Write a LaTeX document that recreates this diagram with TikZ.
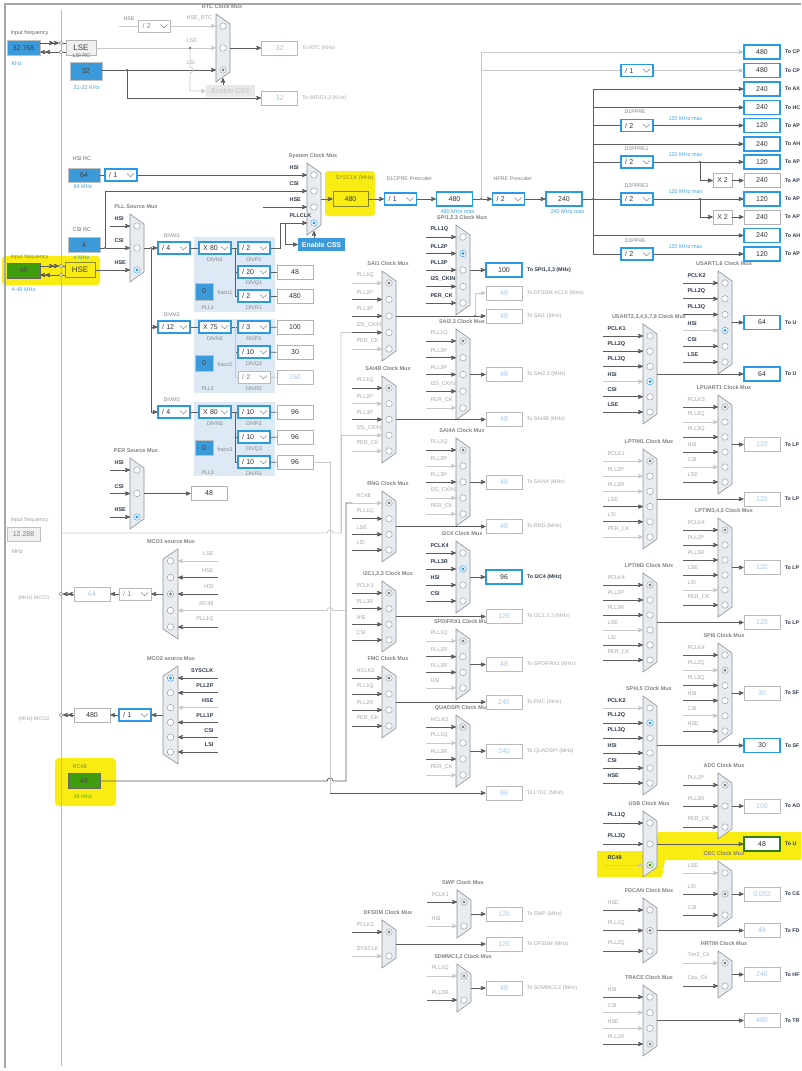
\documentclass[tikz,border=0pt]{standalone}
\usepackage{fontspec}
\setmainfont{Liberation Sans}
\usetikzlibrary{arrows,positioning}

\definecolor{srcblue}{HTML}{3B9BDA}
\definecolor{boxblue}{HTML}{2A9AE4}
\definecolor{srcgreen}{HTML}{3F9C0C}
\definecolor{hilite}{HTML}{F8EC12}
\definecolor{pllpanel}{HTML}{DDE9F5}
\definecolor{muxfill}{HTML}{E8ECF0}
\definecolor{muxline}{HTML}{8C9198}
\definecolor{txtdark}{HTML}{2E3A4C}
\definecolor{txtgray}{HTML}{A3A3A3}
\definecolor{txtblue}{HTML}{3FA2E2}
\definecolor{dimval}{HTML}{A9C7E6}
\definecolor{wiredark}{HTML}{5C5C5C}
\definecolor{wirelight}{HTML}{C9C9C9}
\definecolor{titlegray}{HTML}{808080}
\definecolor{hseolive}{HTML}{8A8A20}

\newcommand{\fs}[1]{\fontsize{#1}{#1}\selectfont}
\newcommand{\inlen}{30}

% clock mux, output on the right
\newcommand{\clkmux}[8]{%
  \draw[muxbody] (#2,#3) -- (#2+14,#3+10) -- (#2+14,#4-10) -- (#2,#4) -- cycle;
  \node[muxtitle] (#1-t) at (#2+6,#3-7) {#6};
  \coordinate (#1-out) at (#2+14,{(#3+#4)/2});
  \foreach \lab/\lw/\rd [count=\i] in {#8} {
    \pgfmathsetmacro{\yy}{#3+12+(\i-1)*(#4-#3-24)/(#5-1)}
    \coordinate (#1-in\i) at (#2-\inlen,\yy);
    \coordinate (#1-e\i) at (#2,\yy);
    \draw[in\lw] (#1-in\i) -- (#1-e\i);
    \node[radio\rd] (#1-r\i) at (#2+7,\yy) {};
    \node[#7, anchor=south west] (#1-l\i) at (#2-\inlen+1,\yy-1.5) {\lab};
  }
}
% clock mux, output on the left (MCO)
\newcommand{\clkmuxl}[8]{%
  \draw[muxbody] (#2,#3+10) -- (#2+15,#3) -- (#2+15,#4) -- (#2,#4-10) -- cycle;
  \node[muxtitle] (#1-t) at (#2+8,#3-7) {#6};
  \coordinate (#1-out) at (#2,{(#3+#4)/2});
  \foreach \lab/\lw/\rd [count=\i] in {#8} {
    \pgfmathsetmacro{\yy}{#3+12+(\i-1)*(#4-#3-24)/(#5-1)}
    \coordinate (#1-in\i) at (#2+15+\inlen,\yy);
    \coordinate (#1-e\i) at (#2+15,\yy);
    \draw[in\lw] (#1-in\i) -- (#1-e\i);
    \node[radio\rd] (#1-r\i) at (#2+7.5,\yy) {};
    \node[#7, anchor=south east] (#1-l\i) at (#2+15+\inlen-1,\yy-1.5) {\lab};
  }
}

\begin{document}
\begin{tikzpicture}[x=1pt,y=-1pt,>=stealth',font=\fs{5.5},
    muxbody/.style={fill=muxfill,draw=muxline,line width=0.6},
    muxtitle/.style={font=\fs{5.5}\bfseries,text=titlegray},
    wire/.style={draw=wiredark,line width=0.8},
    wirel/.style={draw=wirelight,line width=0.8},
    ind/.style={->,wire},
    inl/.style={->,wirel},
    radioo/.style={circle,draw=muxline,fill=white,minimum size=6.5pt,inner sep=0pt},
    radios/.style={radioo,draw=boxblue,path picture={\fill[boxblue] (path picture bounding box.center) circle (1.6pt);}},
    radiog/.style={radioo,path picture={\fill[gray] (path picture bounding box.center) circle (1.6pt);}},
    radion/.style={radioo,draw=srcgreen,path picture={\fill[srcgreen] (path picture bounding box.center) circle (1.6pt);}},
    act/.style={text=txtdark,font=\fs{5.5}\bfseries},
    dis/.style={text=txtgray,font=\fs{5.5}},
    obox/.style={draw=boxblue,line width=1.1,fill=white,minimum width=36pt,minimum height=14pt,inner sep=0pt,font=\fs{7},text=black!80},
    oboxd/.style={obox,draw=gray!55,line width=0.7,text=dimval},
    oboxk/.style={obox,draw=gray!60,line width=0.7},
    oboxg/.style={obox,draw=srcgreen!80!black},
    tolbl/.style={font=\fs{5.3}\bfseries,text=txtdark},
    tolbld/.style={font=\fs{5.3},text=txtgray},
    ddbox/.style={draw=boxblue,line width=1.1,fill=white,minimum width=32pt,minimum height=12pt,inner sep=0pt,
      font=\fs{7},text=black!80,text width=24pt,align=left,
      path picture={\draw[gray,line width=0.5] ([xshift=-10pt,yshift=1.5pt]path picture bounding box.east)
        -- ([xshift=-6.5pt,yshift=-1.8pt]path picture bounding box.east) -- ([xshift=-3pt,yshift=1.5pt]path picture bounding box.east);}},
    dddis/.style={ddbox,draw=gray!55,line width=0.7,text=gray},
    ddlbl/.style={font=\fs{5.3},text=gray},
    maxlbl/.style={font=\fs{5.5},text=txtblue},
    srcbox/.style={fill=srcblue,draw=gray!50,line width=0.5,font=\fs{7},text=black!75,inner sep=0pt},
    greenbox/.style={fill=srcgreen,draw=black!60,line width=0.5,font=\fs{7},text=black!70,inner sep=0pt},
    srclbl/.style={font=\fs{5.5},text=gray!80!black},
    unitlbl/.style={font=\fs{5.5},text=txtblue},
    pinc/.style={circle,draw=gray,fill=white,minimum size=3.5pt,inner sep=0pt},
    jdot/.style={circle,fill=wiredark,minimum size=2.2pt,inner sep=0pt},
    xbox/.style={draw=gray!60,fill=white,minimum width=19pt,minimum height=14pt,inner sep=0pt,font=\fs{7},text=black!75},
    panel/.style={fill=pllpanel}]

\useasboundingbox (0,0) rectangle (801,1071);

% highlights
\fill[hilite,rounded corners=3pt] (2,256) rectangle (100,285);
\fill[hilite,rounded corners=3pt] (325,171) rectangle (375,216);
\fill[hilite,rounded corners=4pt] (55,758) rectangle (116,806);
\fill[hilite] (597,851) -- (655,851) -- (658,832) -- (801,832) -- (801,860) -- (665,860) -- (662,877) -- (597,877) -- cycle;

\draw[gray!70,line width=1.2] (5,1068) -- (5,4) -- (801,4);
\draw[gray!55,line width=0.8] (61,10) -- (61,1066);

\fill[panel] (194,237) rectangle (275,312);
\fill[panel] (194,319) rectangle (275,393);
\fill[panel] (194,402) rectangle (275,476);

% LSE / LSI
\node[srclbl,anchor=south west] (lse-f) at (7,39) {Input frequency};
\node[srcbox,minimum width=33pt,minimum height=15pt] (lse-x) at (23.5,48) {32.768};
\node[unitlbl,anchor=west] (lse-u) at (8,64) {KHz};
\node[pinc] (lse-p1) at (61,43) {};
\node[pinc] (lse-p2) at (61,52) {};
\node[draw=gray!60,fill=gray!12,minimum width=30pt,minimum height=15pt,font=\fs{8},text=black!75,inner sep=0pt] (lse) at (81,47.5) {LSE};
\draw[wire,->>] (lse-x.east |- lse-p1) -- (lse-p1);
\draw[wire,<<-] (lse-x.east |- lse-p2) -- (lse-p2);
\draw[wire] (lse-p1) -- (lse.west |- lse-p1);
\draw[wire] (lse-p2) -- (lse.west |- lse-p2);

\node[srclbl,anchor=south west] (lsi-t) at (69,61.5) {LSI RC};
\node[srcbox,minimum width=32pt,minimum height=18pt] (lsi) at (86,71.5) {32};
\node[unitlbl,anchor=west] (lsi-u) at (70,88) {31-32 KHz};

\renewcommand{\inlen}{34}
\clkmux{rtc}{216}{14}{82}{3}{RTC Clock Mux}{dis}{HSE\_RTC/l/o, LSE/l/o, LSI/d/g}
\node[ddlbl,anchor=south west] (hsertc-l) at (120,24) {HSE};
\coordinate (hsertc-s) at (119,26);
\node[dddis] (rtcdiv) at (154.5,26) {/ 2};
\draw[wirel] (hsertc-s) -- (rtcdiv);
\draw[wirel] (rtcdiv) -- (rtc-in1);
\draw[wirel] (lse.east |- rtc-in2) -- (rtc-in2);
\draw[wire] (lsi.east |- rtc-in3) -- (rtc-in3);
\node[jdot] (lsi-j) at (127,70) {};
\node[oboxd] (iwdg-o) at (279.5,98) {32};
\node[tolbld,right=1pt of iwdg-o] (iwdg-to) {To IWDG1,2 (KHz)};
\draw[wire,->] (lsi-j) |- (iwdg-o);
\node[jdot] (lse-j) at (190,48) {};
\node[fill=gray!18,text=white!55!gray,font=\fs{7},minimum width=49pt,minimum height=12pt,inner sep=0pt] (css1) at (230.5,91) {Enable CSS};
\draw[wirel,->] (lse-j) -- (190,67) arc[start angle=-90,end angle=90,radius=3] -- (190,91) -- (css1);
\coordinate (rtc-b) at (223,78);
\draw[wire,->] (css1.north -| rtc-b) -- (rtc-b);

% HSI / CSI / HSE
\node[srclbl,anchor=south west] (hsi-t) at (69,164) {HSI RC};
\node[srcbox,minimum width=32pt,minimum height=14pt] (hsi) at (84,175) {64};
\node[unitlbl,anchor=west] (hsi-u) at (70,187) {64 MHz};
\node[ddbox] (hsidiv) at (121,175) {/ 1};
\draw[wire] (hsi) -- (hsidiv);

\node[srclbl,anchor=south west] (csi-t) at (69,235) {CSI RC};
\node[srcbox,minimum width=32pt,minimum height=15pt] (csi) at (84,245) {4};
\node[unitlbl,anchor=west] (csi-u) at (70,257.5) {4 MHz};

\node[srclbl,text=hseolive,anchor=south west] (hse-f) at (7,263) {Input frequency};
\node[greenbox,minimum width=33pt,minimum height=15pt] (hse-x) at (23.5,270.5) {48};
\node[unitlbl,anchor=west] (hse-u) at (8,290) {4-48 MHz};
\node[pinc] (hse-p1) at (61,266) {};
\node[pinc] (hse-p2) at (61,275) {};
\node[draw=hseolive,fill=hilite,minimum width=30pt,minimum height=15pt,font=\fs{8},text=black!75,inner sep=0pt] (hse) at (80,270) {HSE};
\draw[wire,->>] (hse-x.east |- hse-p1) -- (hse-p1);
\draw[wire,<<-] (hse-x.east |- hse-p2) -- (hse-p2);
\draw[wire] (hse-p1) -- (hse.west |- hse-p1);
\draw[wire] (hse-p2) -- (hse.west |- hse-p2);

% system clock mux
\renewcommand{\inlen}{22}
\clkmux{sys}{307}{163}{235}{4}{System Clock Mux}{act}{HSI/d/o, CSI/d/o, HSE/d/o, PLLCLK/d/s}
\draw[wire] (hsidiv) -- (sys-in1);
\node[jdot] (csi-j) at (105,248) {};
\draw[wire] (csi.east |- csi-j) -- (csi-j);
\draw[wire] (csi-j) |- (sys-in2);
\coordinate (hse-sys) at (263,207);
\draw[wire] (hse-sys) -- (sys-in3);

\renewcommand{\inlen}{20}
\clkmux{pllsrc}{130}{214}{282}{3}{PLL Source Mux}{act}{HSI/d/o, CSI/d/o, HSE/d/s}
\draw[wire] (csi-j) -- (pllsrc-in2);
\draw[wire] (hse) -- (pllsrc-in3);

\node[srclbl,text=hseolive,anchor=south west] (sysclk-t) at (332,184) {SYSCLK (MHz)};
\node[draw=hseolive,fill=hilite,line width=0.8,minimum width=35pt,minimum height=15pt,font=\fs{7},text=black!80,inner sep=0pt] (sysclk) at (350.5,199) {480};
\draw[wire,->] (sys-out) -- (sysclk);
\node[ddlbl,anchor=south west] (d1cpre-t) at (383,184) {D1CPRE Prescaler};
\node[ddbox] (d1cpre) at (400.5,199) {/ 1};
\draw[wire,->] (sysclk) -- (d1cpre);
\node[obox] (cpuclk) at (454.5,199) {480};
\node[maxlbl,anchor=west] (cpuclk-m) at (437,212) {480 MHz max};
\draw[wire,->] (d1cpre) -- (cpuclk);
\node[jdot] (cpu-j) at (481,199) {};
\draw[wire] (cpuclk) -- (cpu-j);
\node[ddlbl,anchor=south west] (hpre-t) at (490,184) {HPRE Prescaler};
\node[ddbox] (hpre) at (508.5,199) {/ 2};
\draw[wire,->] (cpu-j) -- (hpre);
\node[obox] (hclk) at (564,199) {240};
\node[maxlbl,anchor=west] (hclk-m) at (547,212) {240 MHz max};
\draw[wire,->] (hpre) -- (hclk);
\node[jdot] (bus-j) at (593,199) {};
\draw[wire] (hclk) -- (bus-j);

% bus clocks
\foreach \val/\yy/\tolab/\sty [count=\i] in {480/52/To CP/obox, 480/70.5/To CP/obox, 240/89/To AX/obox, 240/107.5/To HC/obox,
    120/125.5/To AP/obox, 240/144/To AH/obox, 120/162/To AP/obox, 240/180.5/To AP/oboxk, 120/199/To AP/obox,
    240/217/To AP/oboxk, 240/235.5/To AH/obox, 120/254/To AP/obox} {
  \node[\sty] (rb\i) at (762,\yy) {\val};
  \node[tolbl,right=1pt of rb\i] (rb\i-to) {\tolab};
}
\coordinate (cpu-c1) at (481,52);
\coordinate (cpu-c2) at (481,70.5);
\draw[wirel] (cpu-j) -- (cpu-c1);
\draw[wirel,->] (cpu-c1) -- (rb1);
\node[ddbox] (cpudiv) at (637,70.5) {/ 1};
\draw[wirel] (cpu-c2) -- (cpudiv);
\draw[wirel,->] (cpudiv) -- (rb2);
\coordinate (bus-t) at (593,89);
\coordinate (bus-b) at (593,254);
\draw[wire] (bus-t) -- (bus-b);
\foreach \i in {3,4,6,11} \draw[wire,->] (rb\i -| bus-t) -- (rb\i);
\foreach \nm/\yy/\lbtxt in {d1ppre/125.5/D1PPRE, d2ppre1/162/D2PPRE1, d2ppre2/199/D2PPRE2, d3ppre/254/D3PPRE} {
  \node[ddbox] (\nm) at (637,\yy) {/ 2};
  \node[ddlbl,anchor=south west] (\nm-t) at (621,\yy-8) {\lbtxt};
  \node[maxlbl,anchor=west] (\nm-m) at (665,\yy-7) {120 MHz max};
  \draw[wire] (\nm -| bus-t) -- (\nm);
}
\draw[wire,->] (d1ppre) -- (rb5);
\draw[wire,->] (d2ppre1) -- (rb7);
\draw[wire,->] (d2ppre2) -- (rb9);
\draw[wire,->] (d3ppre) -- (rb12);
\node[jdot] (x2a-j) at (700,162) {};
\node[xbox] (x2a) at (722.5,180.5) {X 2};
\draw[wire,->] (x2a-j) |- (x2a);
\draw[wire,->] (x2a) -- (rb8);
\node[jdot] (x2b-j) at (700,199) {};
\node[xbox] (x2b) at (722.5,217) {X 2};
\draw[wire,->] (x2b-j) |- (x2b);
\draw[wire,->] (x2b) -- (rb10);

% PLL1
\node[jdot] (pll-j) at (151,248) {};
\draw[wire] (pllsrc-out) -- (pll-j);
\node[ddbox] (divm1) at (174,248) {/ 4};
\node[ddlbl,anchor=south west] (divm1-t) at (160,241.5) {DIVM1};
\node[ddbox] (divn1) at (215,248) {X 80};
\node[ddlbl] (divn1-t) at (215,259.5) {DIVN1};
\node[ddbox] (divp1) at (254,248) {/ 2};
\node[ddlbl] (divp1-t) at (254,259.5) {DIVP1};
\node[ddbox] (divq1) at (254,272) {/ 20};
\node[ddlbl] (divq1-t) at (254,283.5) {DIVQ1};
\node[ddbox] (divr1) at (254,296) {/ 2};
\node[ddlbl] (divr1-t) at (254,307.5) {DIVR1};
\node[oboxk] (q1) at (295,272) {48};
\node[oboxk] (r1) at (295,296) {480};
\node[srcbox,minimum width=18pt,minimum height=17pt] (frac1) at (204,291.5) {0};
\node[ddlbl,anchor=west] (frac1-t) at (214,293) {fracn1};
\node[ddlbl,anchor=west] (pll1-t) at (198,307.5) {PLL1};
\coordinate (pll1-v) at (235,248);
\draw[wire,->] (pll-j) -- (divm1);
\draw[wire] (divm1) -- (divn1);
\draw[wire] (divn1) -- (divp1);
\draw[wire] (pll1-v) |- (divq1);
\draw[wire] (pll1-v) |- (divr1);
\draw[wire] (divq1) -- (q1);
\draw[wire] (divr1) -- (r1);
\coordinate (pllclk-b) at (280,223);
\draw[wire] (divp1) -| (pllclk-b) -- (sys-in4);
\node[fill=srcblue,text=white,font=\fs{7}\bfseries,minimum width=47pt,minimum height=13pt,inner sep=0pt] (css2) at (321.5,244.5) {Enable CSS};
\coordinate (css-t) at (285,223);
\draw[wire,->] (css-t) |- (css2);
\coordinate (sys-b) at (314,231);
\draw[wire,->] (css2.north -| sys-b) -- (sys-b);

% PLL2
\node[ddbox] (divm2) at (174,327) {/ 12};
\node[ddlbl,anchor=south west] (divm2-t) at (160,320.5) {DIVM2};
\node[ddbox] (divn2) at (215,327) {X 75};
\node[ddlbl] (divn2-t) at (215,339) {DIVN2};
\node[ddbox] (divp2) at (254,327) {/ 3};
\node[ddlbl] (divp2-t) at (254,339) {DIVP2};
\node[ddbox] (divq2) at (254,352) {/ 10};
\node[ddlbl] (divq2-t) at (254,364) {DIVQ2};
\node[dddis] (divr2) at (254,377) {/ 2};
\node[ddlbl] (divr2-t) at (254,389) {DIVR2};
\node[oboxk] (p2) at (295,327.5) {100};
\node[oboxk] (q2) at (295,352.5) {30};
\node[oboxd] (r2) at (295,377.5) {150};
\node[srcbox,minimum width=18pt,minimum height=16pt] (frac2) at (204,363) {0};
\node[ddlbl,anchor=west] (frac2-t) at (214,365) {fracn2};
\node[ddlbl,anchor=west] (pll2-t) at (198,389) {PLL2};
\coordinate (pll2-v) at (235,327);
\draw[wire,->] (pll-j) |- (divm2);
\draw[wire] (divm2) -- (divn2);
\draw[wire] (divn2) -- (divp2);
\draw[wire] (pll2-v) |- (divq2);
\draw[wirel] (pll2-v) |- (divr2);
\draw[wire] (divp2) -- (p2);
\draw[wire] (divq2) -- (q2);
\draw[wirel] (divr2) -- (r2);

% PLL3
\node[ddbox] (divm3) at (174,412) {/ 4};
\node[ddlbl,anchor=south west] (divm3-t) at (160,405.5) {DIVM3};
\node[ddbox] (divn3) at (215,412) {X 80};
\node[ddlbl] (divn3-t) at (215,424) {DIVN3};
\node[ddbox] (divp3) at (254,412) {/ 10};
\node[ddlbl] (divp3-t) at (254,424) {DIVP3};
\node[ddbox] (divq3) at (254,437) {/ 10};
\node[ddlbl] (divq3-t) at (254,449) {DIVQ3};
\node[ddbox] (divr3) at (254,462) {/ 10};
\node[ddlbl] (divr3-t) at (254,474) {DIVR3};
\node[oboxk] (p3) at (295,412.5) {96};
\node[oboxk] (q3) at (295,437.5) {96};
\node[oboxk] (r3) at (295,462.5) {96};
\node[srcbox,minimum width=18pt,minimum height=15pt] (frac3) at (204,448) {0};
\node[ddlbl,anchor=west] (frac3-t) at (214,450) {fracn3};
\node[ddlbl,anchor=west] (pll3-t) at (198,473) {PLL3};
\coordinate (pll3-v) at (235,412);
\draw[wire,->] (pll-j) |- (divm3);
\draw[wire] (divm3) -- (divn3);
\draw[wire] (divn3) -- (divp3);
\draw[wire] (pll3-v) |- (divq3);
\draw[wire] (pll3-v) |- (divr3);
\draw[wire] (divp3) -- (p3);
\draw[wire] (divq3) -- (q3);
\draw[wire] (divr3) -- (r3);

% PER source
\clkmux{per}{130}{458}{529}{3}{PER Source Mux}{act}{HSI/d/o, CSI/d/o, HSE/d/s}
\node[oboxk] (per-o) at (209,493.5) {48};
\draw[wire,->] (per-out) -- (per-o);

% I2S_CKIN input
\node[srclbl,text=txtgray,anchor=south west] (ckin-f) at (7,526) {Input frequency};
\node[fill=gray!12,draw=gray!50,minimum width=33pt,minimum height=14pt,font=\fs{7},text=gray,inner sep=0pt] (ckin-x) at (23.5,534) {12.288};
\node[srclbl,text=txtgray,anchor=west] (ckin-u) at (8,552) {MHz};

% middle muxes
\renewcommand{\inlen}{30}
\clkmux{spi1}{456}{225}{315}{5}{SPI1,2,3 Clock Mux}{act}{PLL1Q/d/o, PLL2P/d/s, PLL3P/d/o, I2S\_CKIN/d/o, PER\_CK/d/o}
\clkmux{sai1}{382}{271}{361}{5}{SAI1 Clock Mux}{dis}{PLL1Q/l/g, PLL2P/d/o, PLL3P/d/o, I2S\_CKIN/d/o, PER\_CK/l/o}
\clkmux{sai2}{456}{329}{420}{5}{SAI2,3 Clock Mux}{dis}{PLL1Q/d/g, PLL2P/d/o, PLL3P/d/o, I2S\_CKIN/d/o, PER\_CK/l/o}
\clkmux{sai4b}{382}{376}{463}{5}{SAI4B Clock Mux}{dis}{PLL1Q/d/g, PLL2P/l/o, PLL3P/d/o, I2S\_CKIN/l/o, PER\_CK/l/o}
\clkmux{sai4a}{456}{438}{526}{5}{SAI4A Clock Mux}{dis}{PLL1Q/d/g, PLL2P/l/o, PLL3P/d/o, I2S\_CKIN/l/o, PER\_CK/l/o}
\clkmux{rng}{382}{491}{562}{4}{RNG Clock Mux}{dis}{RC48/l/g, PLL1Q/d/o, LSE/d/o, LSI/d/o}
\clkmux{i2c4}{456}{541}{613}{4}{I2C4 Clock Mux}{act}{PCLK4/d/o, PLL3R/d/s, HSI/d/o, CSI/d/o}
\clkmux{i2c1}{382}{581}{652}{4}{I2C1,2,3 Clock Mux}{dis}{PCLK1/d/g, PLL3R/d/o, HSI/d/o, CSI/d/o}
\clkmux{spdif}{456}{629}{700}{4}{SPDIFRX1 Clock Mux}{dis}{PLL1Q/l/g, PLL2R/d/o, PLL3R/d/o, HSI/l/o}
\clkmux{fmc}{382}{666}{738}{4}{FMC Clock Mux}{dis}{HCLK3/d/g, PLL1Q/d/o, PLL2R/d/o, PER\_CK/d/o}
\clkmux{qspi}{456}{715}{787}{4}{QUADSPI Clock Mux}{dis}{HCLK3/d/g, PLL1Q/l/o, PLL2R/d/o, PER\_CK/l/o}
\clkmux{swp}{457}{890}{938}{2}{SWP Clock Mux}{dis}{PCLK1/d/g, HSI/l/o}
\clkmux{dfsdm}{382}{920}{968}{2}{DFSDM Clock Mux}{dis}{PCLK2/d/g, SYSCLK/l/o}
\clkmux{sdmmc}{457}{964}{1012}{2}{SDMMC1,2 Clock Mux}{dis}{PLL1Q/l/g, PLL2R/d/o}

% right muxes
\renewcommand{\inlen}{35}
\clkmux{usart1}{718}{271}{374}{6}{USART1,6 Clock Mux}{act}{PCLK2/d/o, PLL2Q/d/o, PLL3Q/d/o, HSI/l/s, CSI/d/o, LSE/d/o}
\clkmux{lpuart}{718}{395}{494}{6}{LPUART1 Clock Mux}{dis}{PCLK3/d/g, PLL2Q/l/o, PLL3Q/d/o, HSI/d/o, CSI/l/o, LSE/d/o}
\clkmux{lptim3}{718}{518}{617}{6}{LPTIM3,4,5 Clock Mux}{dis}{PCLK4/d/g, PLL2P/d/o, PLL3R/d/o, LSE/d/o, LSI/l/o, PER\_CK/d/o}
\clkmux{spi6}{718}{643}{743}{6}{SPI6 Clock Mux}{dis}{PCLK4/d/o, PLL2Q/l/g, PLL3Q/d/o, HSI/d/o, CSI/l/o, HSE/d/o}
\clkmux{adc}{718}{773}{839}{3}{ADC Clock Mux}{dis}{PLL2P/d/g, PLL3R/d/o, PER\_CK/d/o}
\clkmux{cec}{718}{861}{927}{3}{CEC Clock Mux}{dis}{LSE/l/o, LSI/d/g, CSI/d/o}
\clkmux{hrtim}{718}{951}{998}{2}{HRTIM Clock Mux}{dis}{Tim2\_Ck/l/g, Cpu\_Ck/d/o}
\renewcommand{\inlen}{40}
\clkmux{usart2}{643}{324}{424}{6}{USART2,3,4,5,7,8 Clock Mux}{act}{PCLK1/d/o, PLL2Q/d/o, PLL3Q/d/o, HSI/l/s, CSI/d/o, LSE/d/o}
\clkmux{lptim1}{643}{449}{549}{6}{LPTIM1 Clock Mux}{dis}{PCLK1/l/g, PLL2P/l/o, PLL3R/l/o, LSE/d/o, LSI/d/o, PER\_CK/l/o}
\clkmux{lptim2}{643}{573}{672}{6}{LPTIM2 Clock Mux}{dis}{PCLK4/d/g, PLL2P/d/o, PLL3R/d/o, LSE/l/o, LSI/d/o, PER\_CK/d/o}
\clkmux{spi45}{643}{696}{795}{6}{SPI4,5 Clock Mux}{act}{PCLK2/l/o, PLL2Q/d/s, PLL3Q/d/o, HSI/d/o, CSI/d/o, HSE/d/o}
\clkmux{usb}{643}{811}{877}{3}{USB Clock Mux}{act}{PLL1Q/d/o, PLL3Q/d/o, RC48/l/n}
\clkmux{fdcan}{643}{898}{963}{3}{FDCAN Clock Mux}{dis}{HSE/d/o, PLL1Q/d/g, PLL2Q/d/o}
\clkmux{trace}{643}{985}{1056}{4}{TRACE Clock Mux}{dis}{HSI/d/o, CSI/l/o, HSE/l/o, PLL1R/d/g}

% outputs of the muxes
\foreach \mx/\xx/\val/\sty/\lb/\tolab in {
    rtc/279.5/32/oboxd/tolbld/To RTC (KHz),
    spi1/504/100/obox/tolbl/{To SPI1,2,3 (MHz)},
    sai1/504/48/oboxd/tolbld/To SAI1 (MHz),
    sai2/504/48/oboxd/tolbld/{To SAI2,3 (MHz)},
    sai4b/504/48/oboxd/tolbld/To SAI4B (MHz),
    sai4a/504/48/oboxd/tolbld/To SAI4A (MHz),
    rng/504/48/oboxd/tolbld/To RNG (MHz),
    i2c4/504/96/obox/tolbl/To I2C4 (MHz),
    i2c1/504/120/oboxd/tolbld/{To I2C1,2,3 (MHz)},
    spdif/504/48/oboxd/tolbld/To SPDIFRX1 (MHz),
    fmc/504/240/oboxd/tolbld/To FMC (MHz),
    qspi/504/240/oboxd/tolbld/To QUADSPI (MHz),
    swp/504/120/oboxd/tolbld/To SWP (MHz),
    dfsdm/504/120/oboxd/tolbld/To DFSDM (MHz),
    sdmmc/504/48/oboxd/tolbld/{To SDMMC1,2 (MHz)},
    usart1/762/64/obox/tolbl/To U,
    usart2/762/64/obox/tolbl/To U,
    lpuart/762/120/oboxd/tolbl/To LP,
    lptim1/762/120/oboxd/tolbl/To LP,
    lptim3/762/120/oboxd/tolbl/To LP,
    lptim2/762/120/oboxd/tolbl/To LP,
    spi6/762/30/oboxd/tolbl/To SF,
    spi45/762/30/obox/tolbl/To SF,
    adc/762/100/oboxd/tolbl/To AD,
    usb/762/48/oboxg/tolbl/To U,
    cec/762/0.032/oboxd/tolbl/To CE,
    fdcan/762/48/oboxd/tolbl/To FD,
    hrtim/762/240/oboxd/tolbl/To HF,
    trace/762/480/oboxd/tolbl/To TR} {
  \node[\sty] (\mx-o) at (\xx,0 |- \mx-out) {\val};
  \node[\lb,right=1pt of \mx-o] (\mx-to) {\tolab};
  \draw[wire,->] (\mx-out) -- (\mx-o);
}
\node[jdot] (sai1-j) at (475,316) {};
\node[oboxd] (aclk-o) at (504,293) {48};
\node[tolbld,right=1pt of aclk-o] (aclk-to) {To DFSDM ACLK (MHz)};
\draw[wirel,->] (sai1-j) |- (aclk-o);

% MCO outputs
\renewcommand{\inlen}{40}
\clkmuxl{mco1}{163}{549}{639}{5}{MCO1 source Mux}{dis}{LSE/l/o, HSE/d/o, HSI/d/g, RC48/l/o, PLL1Q/d/o}
\node[dddis] (mco1div) at (135,594) {/ 1};
\node[oboxd] (mco1-o) at (92,594) {64};
\node[pinc] (mco1-p) at (61,594) {};
\node[tolbld,anchor=east] (mco1-t2) at (53,598) {(MHz) MCO1};
\draw[wire,->] (mco1-out) -- (mco1div);
\draw[wire,->] (mco1div) -- (mco1-o);
\draw[wire,->>] (mco1-o) -- (mco1-p);
\clkmuxl{mco2}{163}{666}{764}{6}{MCO2 source Mux}{act}{SYSCLK/d/s, PLL2P/d/o, HSE/l/o, PLL1P/d/o, CSI/d/o, LSI/d/o}
\node[ddbox] (mco2div) at (135,715) {/ 1};
\node[oboxk] (mco2-o) at (92,715) {480};
\node[pinc] (mco2-p) at (61,715) {};
\node[tolbld,anchor=east] (mco2-t2) at (53,719) {(MHz) MCO2};
\draw[wire,->] (mco2-out) -- (mco2div);
\draw[wire,->] (mco2div) -- (mco2-o);
\draw[wire,->>] (mco2-o) -- (mco2-p);

% RC48
\node[srclbl,text=hseolive,anchor=south west] (rc48-t) at (69,772) {RC48};
\node[greenbox,minimum width=32pt,minimum height=15pt] (rc48) at (84,781) {48};
\node[unitlbl,text=srcgreen!80!yellow,anchor=west] (rc48-u) at (70,797) {48 MHz};

% long connectors with line hops
\coordinate (ckin-s) at (61,533);
\coordinate (ckin-c) at (341,533);
\draw[wirel] (ckin-s) -- (327,533) arc[start angle=180,end angle=360,radius=3] -- (ckin-c) |- (sai1-in4);
\draw[wirel] (ckin-c) |- (sai4b-in4);
\coordinate (rc48-c) at (346,781);
\draw[wire] (rc48) -- (327,781) arc[start angle=180,end angle=360,radius=3] -- (rc48-c) |- (rng-in1);
\draw[wirel] (rc48-c |- mco1-in4) -- (333,610.5) arc[start angle=0,end angle=-180,radius=3] -- (mco1-in4);
\node[oboxd] (ltdc-o) at (504,793) {96};
\node[tolbld,right=1pt of ltdc-o] (ltdc-to) {To LTDC (MHz)};
\coordinate (ltdc-a) at (330,462.5);
\coordinate (ltdc-b) at (330,793);
\draw[wirel] (r3) -- (ltdc-a) -- (ltdc-b);
\draw[wire,->] (ltdc-b) -- (ltdc-o);
\end{tikzpicture}
\end{document}
